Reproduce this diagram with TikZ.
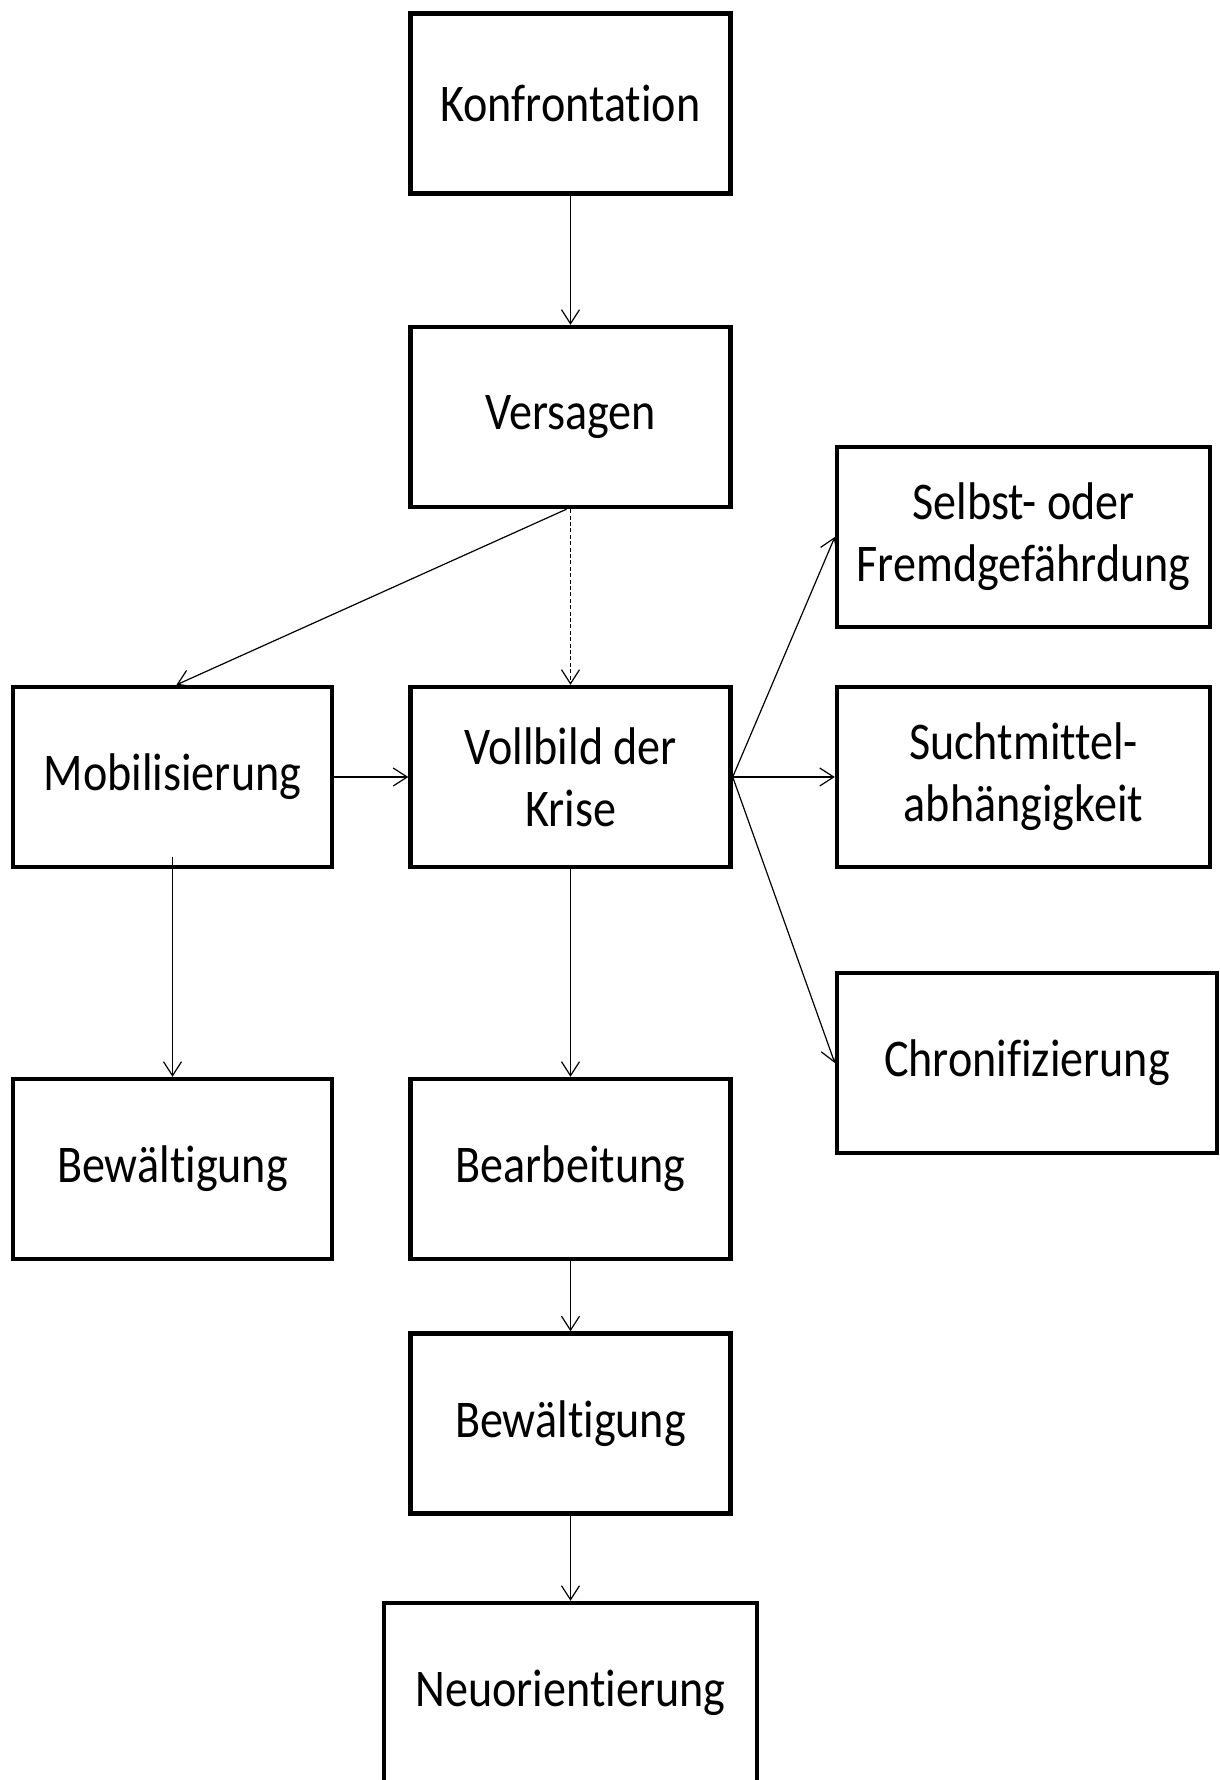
\documentclass[tikz,border=0pt]{standalone}
\usepackage{fontspec}
\setmainfont[FakeStretch=0.87,Ligatures={NoCommon,NoContextual},RawFeature={-liga;-clig;-calt;-dlig}]{Carlito}
\usetikzlibrary{arrows.meta}
\begin{document}
\begin{tikzpicture}[x=0.5pt,y=-0.5pt,
  box/.style={draw=black, line width=2.2pt, minimum width=160pt, minimum height=90pt,
    align=center, inner sep=0pt, font=\fontsize{26.5}{31}\selectfont},
  widebox/.style={box, minimum width=186.5pt},
  arr/.style={line width=0.6pt, -{Straight Barb[length=7pt,width=9pt,line width=0.6pt]}},
  dashedarr/.style={arr, dash pattern=on 2pt off 1.2pt},
]
\useasboundingbox (0,0) rectangle (1219,1780);
\fill[white] (0,0) rectangle (1219,1780);

\node[box] (konf) at (570.5,103.5) {Konfrontation};
\node[box] (vers) at (570.5,417) {Versagen};
\node[widebox] (selbst) at (1023.5,537) {Selbst- oder\\Fremdgefährdung};
\node[box, minimum width=159.5pt] (mob) at (172.5,777) {Mobilisierung};
\node[box] (voll) at (570.5,777) {Vollbild der\\Krise};
\node[widebox] (sucht) at (1023.5,777) {Suchtmittel-\\abhängigkeit};
\node[box, minimum width=190pt] (chron) at (1027,1063) {Chronifizierung};
\node[box, minimum width=159.5pt] (bew1) at (172.5,1169) {Bewältigung};
\node[box] (bear) at (570.5,1169) {Bearbeitung};
\node[box] (bew2) at (570.5,1423.5) {Bewältigung};
\node[widebox] (neu) at (570.5,1693) {Neuorientierung};

\draw[arr] (konf) -- (vers);
\draw[arr] ([xshift=-2pt]vers.south) -- ([xshift=2pt]mob.north);
\draw[dashedarr] (vers) -- (voll);
\draw[arr] (mob) -- (voll);
\draw[arr] (voll.east) -- (selbst.west);
\draw[arr] (voll) -- (sucht);
\draw[arr] (voll.east) -- (chron.west);
\draw[arr] ([yshift=6pt]mob.south) -- (bew1);
\draw[arr] (voll) -- (bear);
\draw[arr] (bear) -- (bew2);
\draw[arr] (bew2) -- (neu);
\end{tikzpicture}
\end{document}
